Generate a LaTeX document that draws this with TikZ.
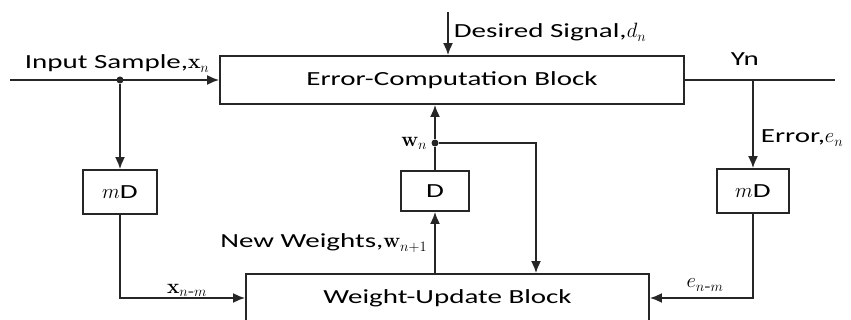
\documentclass[tikz,border=0pt]{standalone}
\usepackage{amsmath}
\usepackage[no-math]{fontspec}
\setmainfont{Carlito}[FakeStretch=1.45]
\usetikzlibrary{arrows.meta}
\begin{document}
\begin{tikzpicture}[x=1pt,y=-1pt,line width=1.8pt,draw=black!85,
  blk/.style={draw, rectangle, inner sep=0pt, font=\fontsize{20}{24}\selectfont},
  lbl/.style={inner sep=0pt, font=\fontsize{20}{24}\selectfont},
  dot/.style={circle, fill=black!85, inner sep=0pt, minimum size=7pt},
  sig/.style={-{Latex[length=12pt,width=10pt]}}]
\clip (0,0) rectangle (851,320);
% The blocks
\node[blk, minimum width=464pt, minimum height=48pt] (ecb) at (452,80) {Error-Computation Block};
\node[blk, minimum width=403pt, minimum height=48pt] (wub) at (447.5,298) {Weight-Update Block};
\node[blk, minimum width=74pt, minimum height=44pt] (mdx) at (120,192) {$m$D};
\node[blk, minimum width=72pt, minimum height=44pt] (mde) at (753,191) {$m$D};
\node[blk, minimum width=68pt, minimum height=40pt] (dly) at (435,191) {D};
% Free ends and branch points
\coordinate (in) at (10,80);
\coordinate (ds) at (448,12);
\coordinate (out) at (835,80);
\coordinate (tape) at (753,80);
\coordinate (fb) at (536,143);
\node[dot] (tapx) at (120,80) {};
\node[dot] (tapw) at (435,143) {};
% Input side
\draw[sig] (in) -- (ecb.west);
\draw[sig] (tapx) -- (mdx.north);
\draw[sig] (mdx.south) |- (wub.west);
% Desired signal and output
\draw[sig] (ds) -- (ds |- ecb.north);
\draw (ecb.east) -- (out);
\draw[sig] (tape) -- (mde.north);
\draw[sig] (mde.south) |- (wub.east);
% Weight loop
\draw[sig] (wub.north -| dly) -- (dly.south);
\draw (dly.north) -- (tapw);
\draw[sig] (tapw) -- (tapw |- ecb.south);
\draw[sig] (tapw) -- (fb) -- (fb |- wub.north);
% Labels
\node[lbl, anchor=base west] (inlbl) at (24,69) {Input Sample,$\mathbf{x}_n$};
\node[lbl, anchor=base west] (dslbl) at (453,38) {Desired Signal,$d_n$};
\node[lbl, anchor=base west] (ynlbl) at (730,66) {Yn};
\node[lbl, anchor=base west] (errlbl) at (760,143) {Error,$e_n$};
\node[lbl, anchor=east] (wnlbl) at (428,143) {$\mathbf{w}_n$};
\node[lbl, anchor=base east] (nwlbl) at (428,248) {New Weights,$\mathbf{w}_{n+1}$};
\node[lbl] (xnm) at (187,290) {$\mathbf{x}_{n\text{-}m}$};
\node[lbl] (enm) at (705,285) {$e_{n\text{-}m}$};
\end{tikzpicture}
\end{document}
